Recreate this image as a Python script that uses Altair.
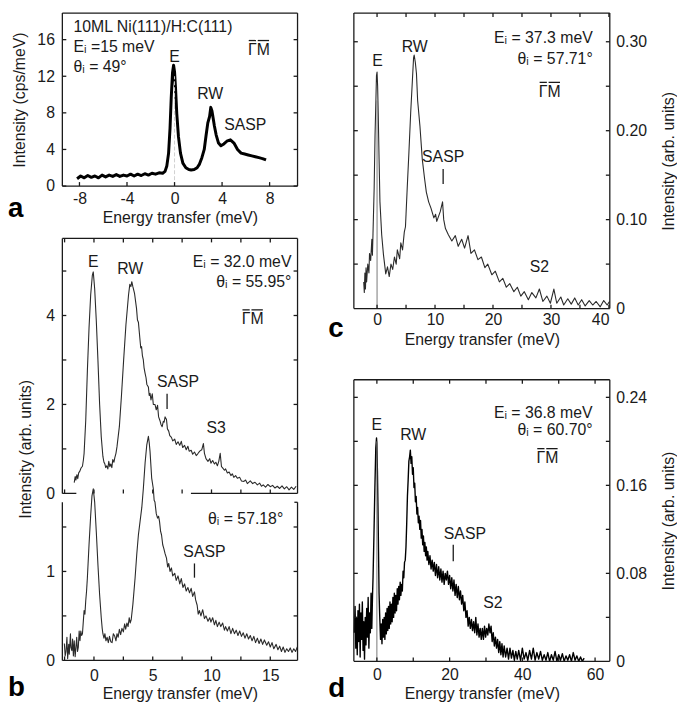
import altair as alt
import pandas as pd

FONT = "Liberation Sans"
INK = "#1a1a1a"
TICK_PX = 4

# ---------------- spectra (energy transfer meV, intensity) ----------------
spec_a = [(-8.2,0.8),(-7.9,1.1),(-7.6,0.9),(-7.3,1.15),(-7.0,0.95),(-6.7,1.1),(-6.4,0.9),(-6.1,1.2),
          (-5.8,1.0),(-5.5,1.2),(-5.2,1.05),(-4.9,1.25),(-4.6,1.05),(-4.3,1.2),(-4.0,1.1),(-3.7,1.3),
          (-3.4,1.1),(-3.1,1.3),(-2.8,1.15),(-2.5,1.35),(-2.2,1.2),(-1.9,1.4),(-1.6,1.3),(-1.3,1.45),
          (-1.0,1.4),(-0.8,1.6),(-0.65,2.2),(-0.5,3.6),(-0.38,6.3),(-0.28,9.6),(-0.17,12.4),(-0.08,13.2),
          (0.0,12.5),(0.08,10.8),(0.19,7.9),(0.33,5.4),(0.5,3.6),(0.7,2.5),(0.95,2.0),(1.2,1.8),(1.4,1.75),
          (1.65,1.8),(1.9,2.0),(2.1,2.4),(2.3,3.1),(2.5,4.0),(2.65,5.5),(2.8,6.9),(2.95,7.6),(3.05,8.6),
          (3.15,8.2),(3.25,7.4),(3.35,6.6),(3.5,5.6),(3.7,4.7),(3.9,4.4),(4.15,4.6),(4.4,4.9),(4.7,5.05),
          (5.0,4.7),(5.3,4.0),(5.6,3.6),(5.9,3.5),(6.2,3.4),(6.5,3.3),(6.8,3.2),(7.1,3.1),(7.4,3.0),(7.7,2.85)]

spec_bu = [(-1.68,0.24),(-1.6,0.38),(-1.54,0.30),(-1.45,0.42),(-1.38,0.33),(-1.3,0.46),(-1.2,0.50),(-1.1,0.57),
           (-0.98,0.61),(-0.9,0.75),(-0.84,0.9),(-0.7,1.64),(-0.56,2.76),(-0.42,3.72),(-0.28,4.46),(-0.14,4.9),
           (-0.06,4.98),(0.06,4.6),(0.2,3.87),(0.34,2.98),(0.48,2.01),(0.62,1.27),(0.76,0.83),(0.85,0.70),
           (0.93,0.66),(1.0,0.58),(1.09,0.62),(1.18,0.55),(1.26,0.72),(1.35,0.60),(1.43,0.66),(1.52,0.58),
           (1.6,0.76),(1.7,0.70),(1.77,0.80),(1.87,0.90),(1.96,1.05),(2.16,1.5),(2.33,2.16),(2.52,2.98),
           (2.72,3.79),(2.94,4.46),(3.05,4.70),(3.14,4.65),(3.22,4.76),(3.3,4.66),(3.45,4.5),(3.62,4.16),
           (3.7,3.9),(3.78,3.85),(3.9,3.5),(3.98,3.27),(4.05,3.3),(4.12,3.1),(4.2,3.0),(4.26,2.83),(4.35,2.7),
           (4.43,2.6),(4.5,2.45),(4.63,2.39),(4.7,2.2),(4.77,2.25),(4.85,2.1),(4.96,2.24),(5.05,2.0),(5.19,2.0),
           (5.3,1.88),(5.41,1.98),(5.5,1.72),(5.61,1.64),(5.7,1.55),(5.8,1.50),(5.9,1.62),(5.97,1.6),(6.05,1.72),
           (6.17,1.66),(6.25,1.45),(6.36,1.4),(6.45,1.30),(6.59,1.26),(6.7,1.18),(6.87,1.22),(7.0,1.10),
           (7.15,1.16),(7.3,1.08),(7.43,1.17),(7.55,1.03),(7.71,1.08),(7.85,0.98),(7.99,1.06),(8.1,0.95),
           (8.27,0.97),(8.4,0.88),(8.55,0.93),(8.7,0.85),(8.83,0.89),(9.0,0.95),(9.17,0.98),(9.31,1.12),
           (9.4,0.90),(9.53,0.78),(9.7,0.72),(9.85,0.78),(9.95,0.68),(10.1,0.74),(10.25,0.66),(10.37,0.70),
           (10.5,0.62),(10.62,0.72),(10.74,0.90),(10.85,0.60),(10.93,0.58),(11.1,0.52),(11.2,0.55),(11.35,0.46),
           (11.5,0.48),(11.65,0.40),(11.77,0.44),(11.9,0.36),(12.05,0.40),(12.2,0.34),(12.4,0.36),(12.55,0.28),
           (12.76,0.27),(12.9,0.30),(13.05,0.22),(13.3,0.28),(13.5,0.22),(13.7,0.25),(13.9,0.19),(14.1,0.23),
           (14.25,0.16),(14.4,0.19),(14.6,0.14),(14.8,0.20),(15.0,0.15),(15.2,0.18),(15.4,0.12),(15.6,0.16),
           (15.8,0.11),(16.0,0.17),(16.2,0.10),(16.4,0.15),(16.6,0.08),(16.8,0.14),(17.0,0.09),(17.2,0.16)]

spec_bl = [(-2.52,0.19),(-2.45,0.05),(-2.38,0.10),(-2.3,0.26),(-2.24,0.02),(-2.15,0.18),(-2.1,0.07),(-2.0,0.30),
           (-1.96,0.15),(-1.88,0.11),(-1.82,0.24),(-1.75,0.05),(-1.68,0.22),(-1.6,0.04),(-1.54,0.14),(-1.47,0.26),
           (-1.4,0.10),(-1.33,0.15),(-1.26,0.33),(-1.19,0.22),(-1.12,0.33),(-1.05,0.28),(-0.98,0.30),(-0.9,0.45),
           (-0.84,0.56),(-0.77,0.52),(-0.7,0.67),(-0.63,0.78),(-0.56,0.93),(-0.42,1.3),(-0.28,1.63),(-0.17,1.85),
           (-0.06,1.93),(0.06,1.78),(0.2,1.44),(0.34,1.07),(0.48,0.74),(0.62,0.48),(0.7,0.36),(0.76,0.30),
           (0.85,0.25),(0.93,0.3),(1.02,0.22),(1.12,0.26),(1.22,0.20),(1.32,0.27),(1.43,0.21),(1.54,0.2),
           (1.65,0.30),(1.77,0.27),(1.87,0.22),(1.96,0.30),(2.06,0.26),(2.16,0.35),(2.27,0.29),(2.38,0.36),
           (2.5,0.32),(2.61,0.41),(2.7,0.35),(2.8,0.42),(2.9,0.38),(3.0,0.48),(3.08,0.42),(3.17,0.46),(3.31,0.63),
           (3.5,0.93),(3.64,1.19),(3.78,1.41),(3.92,1.56),(4.07,1.72),(4.2,1.93),(4.35,2.22),(4.49,2.42),
           (4.63,2.52),(4.7,2.45),(4.77,2.35),(4.91,2.05),(5.05,1.93),(5.12,1.80),(5.19,1.78),(5.3,1.65),
           (5.41,1.60),(5.5,1.62),(5.58,1.56),(5.67,1.45),(5.75,1.41),(5.85,1.30),(5.94,1.26),(6.05,1.20),
           (6.17,1.15),(6.27,1.05),(6.36,1.09),(6.47,1.00),(6.59,1.04),(6.7,0.95),(6.87,0.98),(7.0,0.90),
           (7.15,0.95),(7.3,0.86),(7.43,0.92),(7.57,0.82),(7.71,0.86),(7.85,0.78),(7.99,0.82),(8.13,0.76),
           (8.27,0.81),(8.4,0.72),(8.55,0.77),(8.65,0.68),(8.78,0.62),(8.87,0.52),(8.97,0.56),(9.1,0.50),
           (9.25,0.57),(9.4,0.47),(9.53,0.50),(9.7,0.44),(9.85,0.48),(9.95,0.43),(10.1,0.48),(10.25,0.40),
           (10.37,0.45),(10.5,0.38),(10.65,0.43),(10.79,0.38),(10.95,0.42),(11.1,0.34),(11.2,0.38),(11.35,0.33),
           (11.5,0.38),(11.65,0.30),(11.8,0.36),(11.95,0.30),(12.1,0.34),(12.25,0.28),(12.4,0.33),(12.55,0.27),
           (12.7,0.31),(12.85,0.25),(13.0,0.30),(13.15,0.24),(13.3,0.28),(13.45,0.22),(13.6,0.27),(13.75,0.20),
           (13.9,0.25),(14.05,0.19),(14.2,0.24),(14.35,0.18),(14.5,0.23),(14.7,0.17),(14.85,0.21),(15.0,0.15),
           (15.15,0.20),(15.3,0.13),(15.5,0.18),(15.65,0.12),(15.8,0.16),(15.95,0.10),(16.1,0.15),(16.25,0.09),
           (16.4,0.13),(16.55,0.10),(16.7,0.14),(16.85,0.09),(17.0,0.13),(17.15,0.10),(17.3,0.15)]

spec_c = [(-2.3,0.030),(-2.2,0.018),(-2.1,0.040),(-2.0,0.022),(-1.9,0.046),(-1.8,0.030),(-1.6,0.050),(-1.4,0.040),
          (-1.3,0.062),(-1.1,0.054),(-0.9,0.078),(-0.8,0.060),(-0.7,0.084),(-0.5,0.135),(-0.35,0.194),(-0.2,0.234),
          (-0.1,0.262),(0.0,0.266),(0.1,0.250),(0.2,0.220),(0.35,0.168),(0.5,0.120),(0.8,0.083),(1.1,0.061),
          (1.5,0.039),(1.8,0.047),(2.1,0.036),(2.4,0.050),(2.7,0.044),(3.0,0.058),(3.3,0.050),(3.5,0.066),
          (3.9,0.056),(4.1,0.074),(4.4,0.066),(4.7,0.086),(4.9,0.092),(5.0,0.106),(5.2,0.135),(5.5,0.176),
          (5.8,0.220),(6.1,0.257),(6.3,0.282),(6.4,0.285),(6.6,0.277),(6.8,0.264),(7.0,0.234),(7.4,0.205),
          (7.8,0.168),(8.2,0.146),(8.5,0.131),(8.9,0.120),(9.3,0.113),(9.8,0.102),(10.1,0.106),(10.3,0.098),
          (10.9,0.109),(11.3,0.120),(11.5,0.100),(11.8,0.090),(12.3,0.083),(12.9,0.076),(13.5,0.082),(14.0,0.070),
          (14.6,0.078),(15.1,0.068),(15.7,0.082),(16.2,0.062),(16.8,0.066),(17.4,0.055),(18.0,0.058),(18.6,0.046),
          (19.1,0.050),(19.8,0.038),(20.4,0.042),(21.1,0.030),(21.7,0.034),(22.3,0.024),(22.9,0.028),(23.6,0.019),
          (24.2,0.024),(24.8,0.014),(25.4,0.019),(26.1,0.010),(26.7,0.018),(27.4,0.012),(28.0,0.022),(28.6,0.008),
          (29.3,0.014),(29.9,0.006),(30.5,0.022),(31.0,0.006),(31.7,0.013),(32.2,0.004),(32.9,0.011),(33.5,0.005),
          (34.1,0.012),(34.7,0.004),(35.3,0.010),(35.9,0.003),(36.6,0.009),(37.2,0.004),(37.8,0.008),(38.5,0.002),
          (39.1,0.009),(39.7,0.004),(40.1,0.008)]

spec_d = [(-6.2,0.026),(-6.0,0.050),(-5.8,0.012),(-5.6,0.040),(-5.4,0.006),(-5.2,0.046),(-5.0,0.018),(-4.8,0.052),
          (-4.6,0.004),(-4.4,0.044),(-4.2,0.020),(-4.0,0.054),(-3.8,0.010),(-3.6,0.036),(-3.4,0.002),(-3.2,0.040),
          (-3.0,0.015),(-2.8,0.048),(-2.6,0.022),(-2.4,0.058),(-2.2,0.012),(-2.0,0.044),(-1.8,0.026),(-1.6,0.062),
          (-1.4,0.030),(-1.2,0.060),(-1.05,0.077),(-0.8,0.116),(-0.55,0.158),(-0.3,0.194),(-0.1,0.203),(0.0,0.198),
          (0.15,0.173),(0.3,0.140),(0.45,0.100),(0.6,0.062),(0.75,0.044),(1.0,0.020),(1.2,0.034),(1.4,0.016),
          (1.6,0.038),(1.8,0.022),(2.0,0.040),(2.2,0.020),(2.4,0.044),(2.6,0.025),(2.8,0.048),(3.0,0.028),
          (3.2,0.050),(3.4,0.030),(3.6,0.054),(3.8,0.034),(4.0,0.052),(4.2,0.036),(4.4,0.058),(4.6,0.040),
          (4.8,0.062),(5.0,0.044),(5.2,0.060),(5.4,0.046),(5.6,0.066),(5.8,0.052),(6.0,0.068),(6.2,0.056),
          (6.4,0.072),(6.6,0.060),(6.8,0.070),(7.0,0.064),(7.2,0.082),(7.4,0.076),(7.6,0.090),(7.8,0.092),
          (8.0,0.104),(8.2,0.125),(8.4,0.150),(8.6,0.165),(8.8,0.182),(9.0,0.186),(9.2,0.192),(9.4,0.180),
          (9.6,0.186),(9.8,0.170),(10.0,0.176),(10.2,0.158),(10.4,0.162),(10.6,0.145),(10.8,0.150),(11.0,0.134),
          (11.2,0.140),(11.4,0.126),(11.6,0.132),(11.8,0.120),(12.0,0.128),(12.2,0.112),(12.4,0.120),(12.6,0.106),
          (12.8,0.114),(13.0,0.100),(13.2,0.108),(13.4,0.096),(13.6,0.104),(13.8,0.092),(14.0,0.100),(14.3,0.088),
          (14.6,0.096),(14.9,0.084),(15.2,0.092),(15.5,0.082),(15.8,0.090),(16.1,0.078),(16.4,0.088),(16.7,0.076),
          (17.0,0.086),(17.3,0.074),(17.6,0.084),(17.9,0.072),(18.2,0.082),(18.5,0.070),(18.8,0.080),(19.1,0.074),
          (19.4,0.082),(19.7,0.070),(20.0,0.078),(20.3,0.066),(20.6,0.076),(20.9,0.064),(21.2,0.074),(21.5,0.060),
          (21.8,0.070),(22.1,0.058),(22.4,0.068),(22.7,0.056),(23.0,0.064),(23.3,0.052),(23.6,0.060),(23.9,0.046),
          (24.2,0.054),(24.5,0.040),(24.8,0.046),(25.1,0.032),(25.4,0.040),(25.7,0.030),(26.0,0.038),(26.3,0.028),
          (26.6,0.036),(26.9,0.026),(27.2,0.040),(27.5,0.024),(27.8,0.034),(28.1,0.022),(28.4,0.030),(28.7,0.020),
          (29.0,0.030),(29.3,0.020),(29.6,0.032),(29.9,0.022),(30.2,0.030),(30.5,0.024),(30.8,0.034),(31.1,0.026),
          (31.4,0.032),(31.7,0.018),(32.0,0.026),(32.3,0.014),(32.6,0.022),(32.9,0.012),(33.2,0.020),(33.5,0.008),
          (33.8,0.018),(34.1,0.006),(34.4,0.016),(34.7,0.004),(35.0,0.014),(35.4,0.004),(35.8,0.012),(36.2,0.002),
          (36.6,0.012),(37.0,0.003),(37.4,0.010),(37.8,0.001),(38.2,0.009),(38.6,0.002),(39.0,0.010),(39.5,0.001),
          (40.0,0.012),(40.5,0.002),(41.0,0.008),(41.5,0.001),(42.0,0.010),(42.5,0.002),(43.0,0.012),(43.5,0.001),
          (44.0,0.008),(44.5,0.002),(45.0,0.009),(45.5,0.001),(46.0,0.006),(46.5,0.001),(47.0,0.008),(47.5,0.000),
          (48.0,0.006),(48.5,0.001),(49.0,0.009),(49.5,0.000),(50.0,0.006),(50.5,0.001),(51.0,0.007),(51.5,0.000),
          (52.0,0.005),(52.5,0.001),(53.0,0.006),(53.5,0.000),(54.0,0.008),(54.5,0.001),(55.0,0.005),(55.5,0.000),
          (56.0,0.004),(56.5,0.000),(57.0,0.003)]

# ---------------- annotations (x, y, text, align) ----------------
GM = "\u0393M"   # drawn with an overbar on each letter
notes_a = [(-8.5, 17.4, "10ML Ni(111)/H:C(111)", "left"), (-8.5, 15.2, "E\u1d62 =15 meV", "left"),
           (-8.5, 13.0, "\u03b8\u1d62 = 49\u00b0", "left"), (0.0, 14.1, "E", "center"),
           (3.0, 10.1, "RW", "center"), (5.95, 6.7, "SASP", "center"), (7.1, 14.9, GM, "center")]
notes_bu = [(-0.06, 5.21, "E", "center"), (3.08, 5.05, "RW", "center"),
            (16.8, 5.2, "E\u1d62 = 32.0 meV", "right"), (16.8, 4.76, "\u03b8\u1d62 = 55.95\u00b0", "right"),
            (13.5, 3.92, GM, "center"), (7.15, 2.5, "SASP", "center"), (10.4, 1.46, "S3", "center")]
notes_bl = [(16.1, 1.59, "\u03b8\u1d62 = 57.18\u00b0", "right"), (9.4, 1.22, "SASP", "center")]
notes_c = [(0.1, 0.278, "E", "center"), (6.5, 0.294, "RW", "center"),
           (37.2, 0.304, "E\u1d62 = 37.3 meV", "right"), (37.2, 0.280, "\u03b8\u1d62 = 57.71\u00b0", "right"),
           (29.8, 0.244, GM, "center"), (11.4, 0.170, "SASP", "center"), (28.0, 0.0466, "S2", "center")]
notes_d = [(0.0, 0.215, "E", "center"), (10.0, 0.206, "RW", "center"),
           (59.3, 0.226, "E\u1d62 = 36.8 meV", "right"), (59.3, 0.2105, "\u03b8\u1d62 = 60.70\u00b0", "right"),
           (46.9, 0.185, GM, "center"), (24.2, 0.116, "SASP", "center"), (31.9, 0.053, "S2", "center")]

# overbar pixel extents relative to the centre of the "ΓM" label (font metrics of 16px Liberation Sans)
BARS_PX = [(-10.3, -3.0), (-1.2, 10.3)]
BAR_RISE_PX = 9.3

# SASP marker bars (x, y_low, y_high)
mark_bu = [(6.22, 1.9, 2.24)]
mark_bl = [(8.55, 0.93, 1.09)]
mark_c = [(11.4, 0.140, 0.157)]
mark_d = [(21.0, 0.091, 0.106)]

# elastic reference line at E = 0 (x, top)
eline_a = (0.0, 12.0)
eline_c = (0.0, 0.234)
eline_d = (0.0, 0.200)

LBL = "'' + datum.value"
LBL2 = "datum.value == 0 ? '0' : format(datum.value, '.2f')"


def panel(spec, xdom, ydom, w, h, xaxis, yaxis, xt_b, xt_t, yt_l, yt_r, notes,
          marks=(), eline=None, eline_style=None, color=INK, lw=1.2,
          bottom_segs=None, top_segs=None, letter=None, yframe_top=None):
    xs = alt.Scale(domain=list(xdom), nice=False, zero=False)
    ys = alt.Scale(domain=list(ydom), nice=False, zero=False)
    x0, x1 = xdom
    y0, y1s = ydom
    y1 = yframe_top if yframe_top is not None else y1s
    kx = (x1 - x0) / w
    ky = (y1s - y0) / h
    dy = ky * TICK_PX
    dx = kx * TICK_PX
    rows = []
    for t in xt_b:
        rows.append(dict(x=t, x2=t, y=y0, y2=y0 + dy))
    for t in xt_t:
        rows.append(dict(x=t, x2=t, y=y1, y2=y1 - dy))
    for t in yt_l:
        rows.append(dict(x=x0, x2=x0 + dx, y=t, y2=t))
    for t in yt_r:
        rows.append(dict(x=x1, x2=x1 - dx, y=t, y2=t))
    rows.append(dict(x=x0, x2=x0, y=y0, y2=y1))
    rows.append(dict(x=x1, x2=x1, y=y0, y2=y1))
    for a, b in (bottom_segs if bottom_segs is not None else [(x0, x1)]):
        rows.append(dict(x=a, x2=b, y=y0, y2=y0))
    for a, b in (top_segs if top_segs is not None else [(x0, x1)]):
        rows.append(dict(x=a, x2=b, y=y1, y2=y1))
    for (mx, ylo, yhi) in marks:
        rows.append(dict(x=mx, x2=mx, y=ylo, y2=yhi))
    for n in notes:
        if n[2] == GM:
            for (pa_, pb_) in BARS_PX:
                yb = n[1] + BAR_RISE_PX * ky
                rows.append(dict(x=n[0] + pa_ * kx, x2=n[0] + pb_ * kx, y=yb, y2=yb))

    def X(f):
        return alt.X(f, scale=xs, axis=xaxis)

    def Y(f):
        return alt.Y(f, scale=ys, axis=yaxis)

    layers = []
    df = pd.DataFrame(spec, columns=["e", "i"])
    layers.append(alt.Chart(df).mark_line(color=color, strokeWidth=lw, strokeJoin="round").encode(
        x=X("e:Q"), y=Y("i:Q")))

    if eline is not None:
        if eline_style == "over":
            em = alt.Chart(pd.DataFrame([dict(x=eline[0], y=y0, y2=eline[1])])).mark_rule(
                color="#d0d0d0", strokeWidth=1, strokeDash=[4, 2])
        else:
            em = alt.Chart(pd.DataFrame([dict(x=eline[0], y=y0, y2=eline[1])])).mark_rule(
                color="#777", strokeWidth=1)
        layers.append(em.encode(x=X("x:Q"), y=Y("y:Q"), y2="y2:Q"))

    layers.append(alt.Chart(pd.DataFrame(rows)).mark_rule(color=INK, strokeWidth=1.3).encode(
        x=X("x:Q"), x2="x2:Q", y=Y("y:Q"), y2="y2:Q"))

    for al in ["left", "center", "right"]:
        sub = [dict(x=n[0], y=n[1], t=n[2]) for n in notes if n[3] == al]
        if sub:
            layers.append(alt.Chart(pd.DataFrame(sub)).mark_text(
                align=al, baseline="middle", font=FONT, fontSize=16, color=INK).encode(
                x=X("x:Q"), y=Y("y:Q"), text="t:N"))

    if letter is not None:
        t, lx, ly = letter
        layers.append(alt.Chart(pd.DataFrame([dict(t=t)])).mark_text(
            align="left", baseline="alphabetic", font=FONT, fontSize=28, fontWeight="bold",
            color="#000").encode(x=alt.value(lx), y=alt.value(ly), text="t:N"))

    return alt.layer(*layers).properties(width=w, height=h)


TITLE_E = "Energy transfer (meV)"
TITLE_I = "Intensity (arb. units)"

# ---- panel a ----
pa = panel(spec_a, (-9.44, 10.35), (0, 18.9), 238, 175,
           alt.Axis(values=[-8, -4, 0, 4, 8], labelExpr=LBL, labelPadding=5, title=TITLE_E, titlePadding=3),
           alt.Axis(values=[0, 4, 8, 12, 16], labelExpr=LBL, labelPadding=8, title="Intensity (cps/meV)",
                    titlePadding=10),
           [-8, -4, 0, 4, 8], [], [0, 4, 8, 12, 16], [0, 4, 8, 12, 16], notes_a,
           eline=eline_a, eline_style="over", color="#000", lw=3, letter=("a", -55, 206))

xt_b = [-2.5, 0, 2.5, 5, 7.5, 10, 12.5, 15]
pbu = panel(spec_bu, (-2.69, 17.32), (0, 6.711), 238, 302,
            None,
            alt.Axis(values=[0, 2, 4], labelExpr=LBL, labelPadding=8, title=TITLE_I, titlePadding=12,
                     titleY=257),
            xt_b, xt_b, [1, 2, 3, 4, 5], [1, 2, 3, 4, 5], notes_bu, marks=mark_bu,
            color="#2a2a2a", lw=1.1, bottom_segs=[(-2.69, -1.5), (8.25, 17.32)], yframe_top=5.733)

pbl = panel(spec_bl, (-2.69, 17.32), (0, 1.778), 238, 160,
            alt.Axis(values=[0, 5, 10, 15], labelExpr=LBL, labelPadding=7, title=TITLE_E, titlePadding=3),
            alt.Axis(values=[0, 1], labelExpr=LBL, labelPadding=8, title=""),
            xt_b, [], [0.5, 1, 1.5], [0.5, 1, 1.5], notes_bl, marks=mark_bl,
            color="#2a2a2a", lw=1.1, top_segs=[(17.05, 17.32)], letter=("b", -55, 196))

pc = panel(spec_c, (-4.0, 40.15), (0, 0.3322), 259, 299,
           alt.Axis(values=[0, 10, 20, 30, 40], labelExpr=LBL, labelPadding=3, title=TITLE_E, titlePadding=4),
           alt.Axis(orient="right", values=[0, 0.1, 0.2, 0.3], labelExpr=LBL2, labelPadding=6,
                    title=TITLE_I, titleAngle=270, titleBaseline="top", titlePadding=14),
           [0, 5, 10, 15, 20, 25, 30, 35, 40], [0, 5, 10, 15, 20, 25, 30, 35, 40],
           [0.05, 0.10, 0.15, 0.20, 0.25, 0.30], [0.05, 0.10, 0.15, 0.20, 0.25, 0.30], notes_c,
           marks=mark_c, eline=eline_c, eline_style="under", color="#2a2a2a", lw=1.1, letter=("c", -26, 328))

pd_ = panel(spec_d, (-6.33, 64.05), (0, 0.256), 259, 285,
            alt.Axis(values=[0, 20, 40, 60], labelExpr=LBL, labelPadding=5, title=TITLE_E, titlePadding=4),
            alt.Axis(orient="right", values=[0, 0.08, 0.16, 0.24], labelExpr=LBL2, labelPadding=6,
                     title=TITLE_I, titleAngle=270, titleBaseline="top", titlePadding=14),
            [0, 10, 20, 30, 40, 50, 60], [0, 10, 20, 30, 40, 50, 60],
            [0.04, 0.08, 0.12, 0.16, 0.20, 0.24], [0.04, 0.08, 0.12, 0.16, 0.20, 0.24], notes_d,
            marks=mark_d, eline=eline_d, eline_style="under", color="#000", lw=1.4, letter=("d", -26, 321))

left = alt.vconcat(pa, pbu, pbl, spacing=9, bounds="flush")
right = alt.vconcat(pc, pd_, spacing=72, bounds="flush")

chart = alt.hconcat(left, right, spacing=30).properties(
    padding=0, background="white"
).configure_view(stroke=None).configure_axis(
    labelFont=FONT, labelFontSize=16, labelColor=INK, titleFont=FONT, titleFontSize=16,
    titleFontWeight="normal", titleColor=INK, domain=False, ticks=False, grid=False
)

chart.save("out.html", embed_options={"renderer": "svg", "actions": False})
